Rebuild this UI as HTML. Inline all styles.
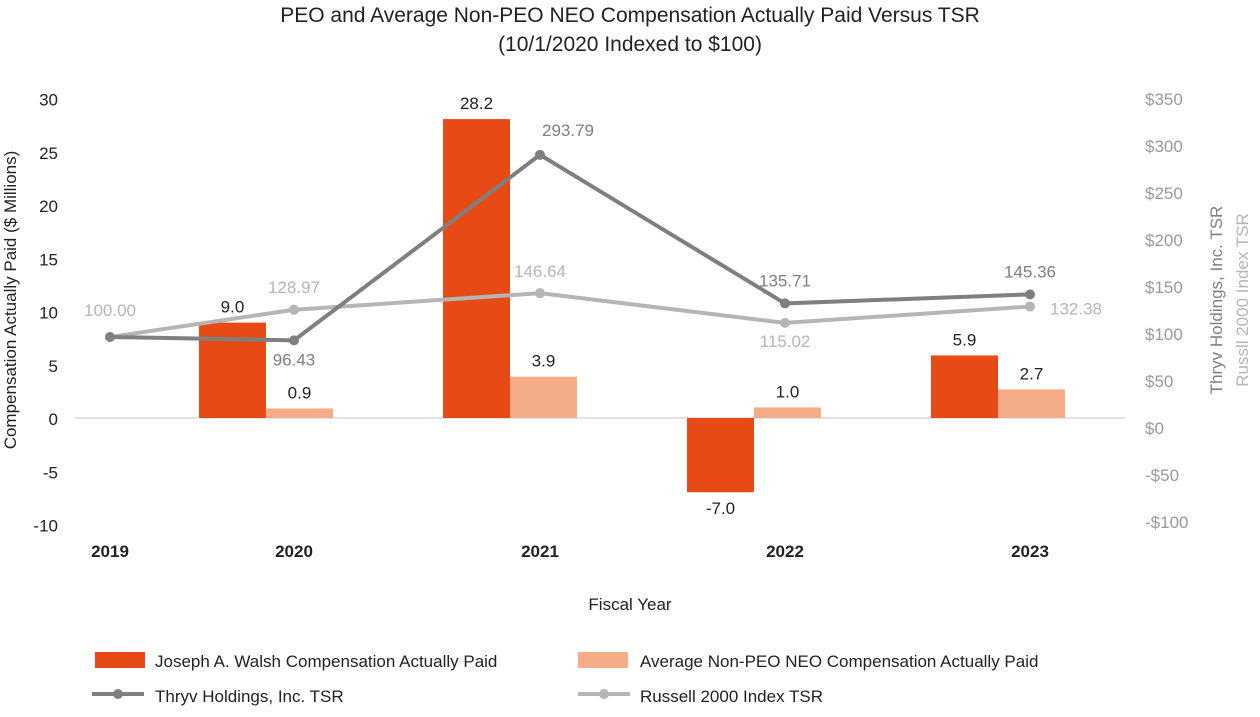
<!DOCTYPE html>
<html><head><meta charset="utf-8"><style>
body{margin:0;background:#fff;font-family:"Liberation Sans",sans-serif}
svg text{font-family:"Liberation Sans",sans-serif}
</style></head><body>
<svg width="1260" height="712" id="c">
<text x="630" y="22" text-anchor="middle" font-size="21" fill="#222">PEO and Average Non-PEO NEO Compensation Actually Paid Versus TSR</text>
<text x="630" y="51" text-anchor="middle" font-size="21" fill="#222">(10/1/2020 Indexed to $100)</text>
<text transform="translate(16,300) rotate(-90)" text-anchor="middle" font-size="17" fill="#222">Compensation Actually Paid ($ Millions)</text>
<text transform="translate(1222,300) rotate(-90)" text-anchor="middle" font-size="17" fill="#808080">Thryv Holdings, Inc. TSR</text>
<text transform="translate(1248,300) rotate(-90)" text-anchor="middle" font-size="17" fill="#b5b5b5">Russll 2000 Index TSR</text>
<text x="630" y="610" text-anchor="middle" font-size="17" fill="#222">Fiscal Year</text>
<line x1="75" y1="418" x2="1125" y2="418" stroke="#d9d9d9" stroke-width="1.5"/>
<g id="plot"></g>
<g font-size="17" fill="#222">
<rect x="95" y="652" width="50" height="16" fill="#e84a16"/>
<text x="155" y="667">Joseph A. Walsh Compensation Actually Paid</text>
<rect x="578" y="652" width="50" height="16" fill="#f4ad88"/>
<text x="640" y="667">Average Non-PEO NEO Compensation Actually Paid</text>
<line x1="92" y1="694" x2="144" y2="694" stroke="#7f7f7f" stroke-width="4"/><circle cx="118" cy="694" r="5" fill="#7f7f7f"/>
<text x="155" y="702">Thryv Holdings, Inc. TSR</text>
<line x1="578" y1="694" x2="630" y2="694" stroke="#b5b5b5" stroke-width="4"/><circle cx="604" cy="694" r="5" fill="#b5b5b5"/>
<text x="640" y="702">Russell 2000 Index TSR</text>
</g>
</svg>
<script>
const years=["2019","2020","2021","2022","2023"];
const peo=[null,9.0,28.2,-7.0,5.9];
const neo=[null,0.9,3.9,1.0,2.7];
const thryv=[100.00,96.43,293.79,135.71,145.36];
const russell=[100.00,128.97,146.64,115.02,132.38];
const leftTicks=[30,25,20,15,10,5,0,-5,-10];
const rightTicks=[350,300,250,200,150,100,50,0,-50,-100];
const xPos=[110,294,540,785,1030];
const barX=i=>22+244*i;
const yL=v=>418-v*10.6;
const yTick=v=>418-v*10.65;
const yR=v=>431-v*0.94;
const yRT=v=>427-v*0.94;
const NS="http://www.w3.org/2000/svg";
const g=document.getElementById('plot');
function el(t,a,txt){const e=document.createElementNS(NS,t);for(const k in a)e.setAttribute(k,a[k]);if(txt!=null)e.textContent=txt;g.appendChild(e);return e;}
leftTicks.forEach(v=>{const e=el('text',{x:58,y:yTick(v)+7,'text-anchor':'end','font-size':17,fill:'#222'},String(v));

});
rightTicks.forEach(v=>{const e=el('text',{x:1145,y:yRT(v)+7,'font-size':17,fill:'#999'},(v<0?'-$':'$')+Math.abs(v));

});
years.forEach((y,i)=>{const e=el('text',{x:xPos[i],y:557,'text-anchor':'middle','font-size':17,'font-weight':'bold',fill:'#222'},y);

});
const bw=67;
years.forEach((y,i)=>{
 const cx=barX(i);
 if(peo[i]!=null){const v=peo[i];const t=Math.min(yL(v),yL(0));
  const r=el('rect',{x:cx-bw,y:t,width:bw,height:Math.abs(yL(v)-yL(0)),fill:'#e84a16'});
  
  
  const l=el('text',{x:cx-bw/2,y:v>=0?yL(v)-10:yL(v)+22,'text-anchor':'middle','font-size':17,fill:'#222'},v.toFixed(1));
  
  }
 if(neo[i]!=null){const v=neo[i];
  const r=el('rect',{x:cx,y:yL(v),width:bw,height:yL(0)-yL(v),fill:'#f4ad88'});
  
  
  const l=el('text',{x:cx+bw/2,y:yL(v)-10,'text-anchor':'middle','font-size':17,fill:'#222'},v.toFixed(1));
  
  }
});
function series(vals,color,name,offs){
 const p=el('polyline',{points:vals.map((v,i)=>xPos[i]+','+yR(v)).join(' '),fill:'none',stroke:color,'stroke-width':4});
 
 
 vals.forEach((v,i)=>{const c=el('circle',{cx:xPos[i],cy:yR(v),r:5,fill:color});
  
  
  const o=offs[i];
  const t=el('text',{x:xPos[i]+o[0],y:yR(v)+o[1],'text-anchor':'middle','font-size':17,fill:color},v.toFixed(2));
  
  });
}
series(russell,'#b5b5b5','russell',[[0,-21],[0,-17],[0,-16],[0,24],[46,8]]);
series(thryv,'#7f7f7f','thryv',[[-1000,0],[0,25],[28,-19],[0,-17],[0,-17]]);
</script>
</body></html>
